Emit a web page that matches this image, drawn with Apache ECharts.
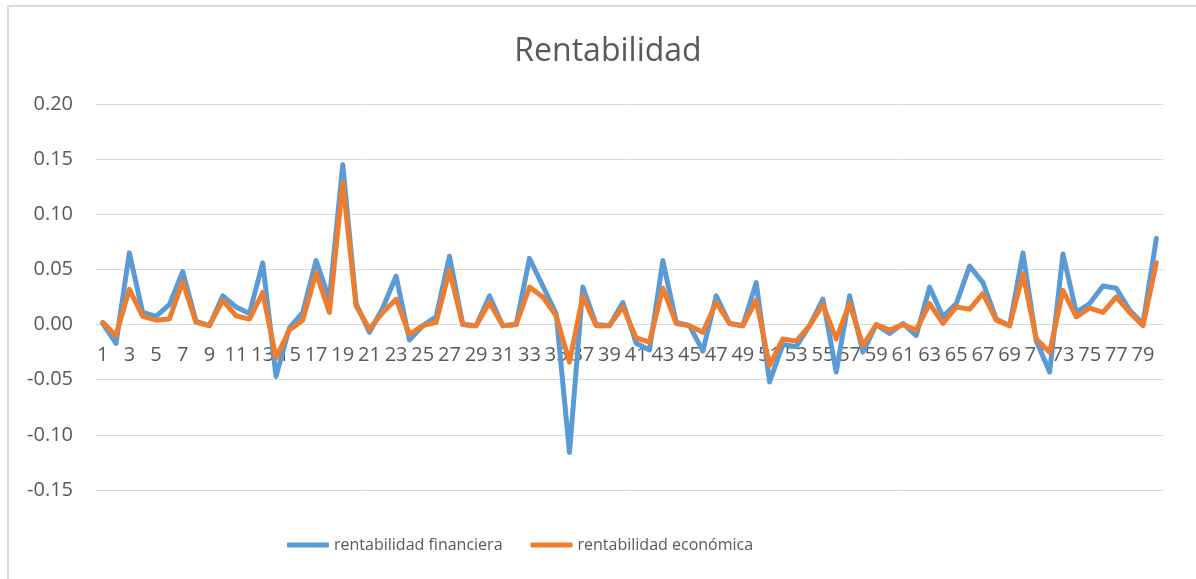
<!DOCTYPE html>
<html>
<head>
<meta charset="utf-8">
<script src="https://cdn.jsdelivr.net/npm/echarts@6/dist/echarts.min.js"></script>
<style>
html, body { margin: 0; padding: 0; background: #fff; overflow: hidden; }
#frame {
  position: absolute; left: 7px; top: 5px;
  width: 1400px; height: 800px;
  border: 2px solid #d9d9d9; box-sizing: border-box;
}
#chart { position: absolute; left: 0; top: 0; width: 1196px; height: 579px; }
</style>
</head>
<body>
<div id="frame"></div>
<div id="chart"></div>
<script>
// periodos 1..80
var periodos = ['1','2','3','4','5','6','7','8','9','10',
  '11','12','13','14','15','16','17','18','19','20',
  '21','22','23','24','25','26','27','28','29','30',
  '31','32','33','34','35','36','37','38','39','40',
  '41','42','43','44','45','46','47','48','49','50',
  '51','52','53','54','55','56','57','58','59','60',
  '61','62','63','64','65','66','67','68','69','70',
  '71','72','73','74','75','76','77','78','79','80'];

var financiera = [
  0.001, -0.017, 0.065, 0.011, 0.0075, 0.018, 0.048, 0.003, -0.001, 0.026,
  0.016, 0.010, 0.056, -0.047, -0.003, 0.011, 0.058, 0.023, 0.145, 0.019,
  -0.007, 0.015, 0.044, -0.014, -0.001, 0.007, 0.062, 0.000, -0.001, 0.026,
  -0.001, 0.000, 0.060, 0.035, 0.010, -0.116, 0.034, 0.000, -0.001, 0.020,
  -0.017, -0.023, 0.058, 0.002, -0.001, -0.024, 0.026, 0.001, -0.001, 0.038,
  -0.052, -0.018, -0.020, -0.001, 0.023, -0.043, 0.026, -0.025, 0.000, -0.008,
  0.001, -0.010, 0.034, 0.007, 0.019, 0.053, 0.038, 0.005, -0.001, 0.065,
  -0.015, -0.043, 0.064, 0.011, 0.019, 0.035, 0.033, 0.013, 0.001, 0.078
];

var economica = [
  0.002, -0.010, 0.032, 0.0075, 0.004, 0.005, 0.039, 0.002, -0.001, 0.022,
  0.008, 0.005, 0.029, -0.030, -0.005, 0.004, 0.047, 0.011, 0.129, 0.017,
  -0.004, 0.011, 0.023, -0.009, -0.001, 0.002, 0.049, 0.000, -0.001, 0.020,
  -0.001, 0.000, 0.034, 0.025, 0.008, -0.034, 0.026, -0.001, -0.001, 0.016,
  -0.012, -0.016, 0.033, 0.001, -0.001, -0.007, 0.020, 0.001, -0.001, 0.022,
  -0.037, -0.013, -0.015, -0.001, 0.018, -0.013, 0.019, -0.019, 0.000, -0.005,
  0.000, -0.005, 0.019, 0.001, 0.016, 0.014, 0.028, 0.004, -0.001, 0.046,
  -0.013, -0.025, 0.031, 0.007, 0.015, 0.011, 0.025, 0.011, -0.001, 0.056
];

var nombres = ['rentabilidad financiera', 'rentabilidad económica'];
var colores = ['#5b9bd5', '#ed7d31'];

var fuente = '"Open Sans", "Noto Sans", sans-serif';
var gris = '#595959';

var myChart = echarts.init(document.getElementById('chart'));

var option = {
  backgroundColor: 'transparent',
  animation: false,
  color: colores,
  title: {
    text: 'Rentabilidad',
    left: 603,
    textAlign: 'center',
    top: 31,
    textStyle: { fontFamily: fuente, fontSize: 32, fontWeight: 'normal', color: gris }
  },
  legend: {
    left: 287,
    top: 537,
    padding: 0,
    itemWidth: 42,
    itemHeight: 5,
    itemGap: 28,
    icon: 'roundRect',
    textStyle: { fontFamily: fuente, fontSize: 16, color: gris },
    data: nombres
  },
  grid: { left: 96, right: 33, top: 104, bottom: 89 },
  xAxis: {
    type: 'category',
    data: periodos,
    boundaryGap: true,
    // el eje cruza en 0: se sube desde -0.15 hasta 0.00
    offset: -166,
    axisLine: { onZero: false, lineStyle: { color: '#d9d9d9', width: 1 } },
    axisTick: { show: false },
    axisLabel: { interval: 1, margin: 21, fontFamily: fuente, fontSize: 20, color: gris }
  },
  yAxis: {
    type: 'value',
    min: -0.15,
    max: 0.2,
    interval: 0.05,
    axisLine: { show: false },
    axisTick: { show: false },
    splitLine: { lineStyle: { color: '#d9d9d9', width: 1 } },
    axisLabel: {
      margin: 23,
      fontFamily: fuente, fontSize: 20, color: gris,
      formatter: function (v) { return v.toFixed(2); }
    }
  },
  series: [
    {
      name: nombres[0],
      type: 'line',
      zlevel: 1,
      data: financiera,
      showSymbol: false,
      symbol: 'none',
      lineStyle: { width: 5, cap: 'round', join: 'round' }
    },
    {
      name: nombres[1],
      type: 'line',
      zlevel: 1,
      data: economica,
      showSymbol: false,
      symbol: 'none',
      lineStyle: { width: 5, cap: 'round', join: 'round' }
    }
  ]
};

myChart.setOption(option);
window.addEventListener('resize', function () { myChart.resize(); });
</script>
</body>
</html>
